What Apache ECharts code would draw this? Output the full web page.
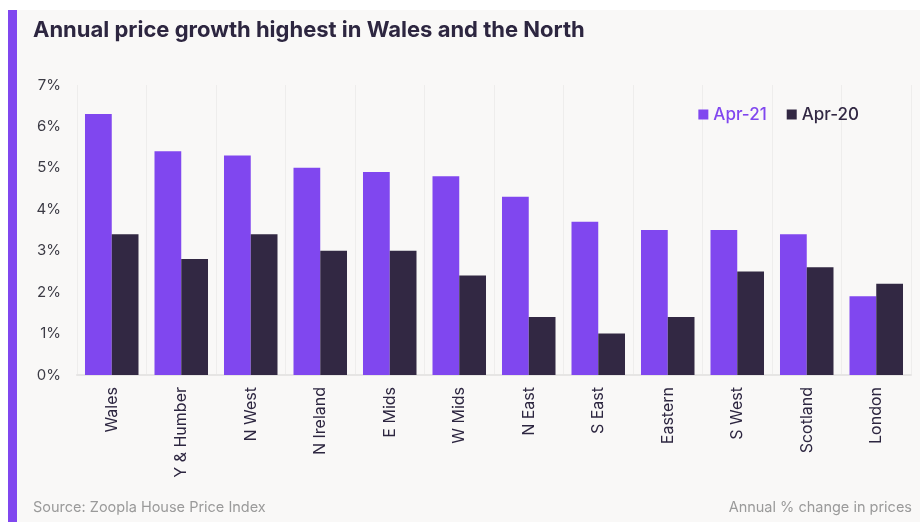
<!DOCTYPE html>
<html>
<head>
<meta charset="utf-8">
<script src="https://cdn.jsdelivr.net/npm/echarts@6/dist/echarts.min.js"></script>
<style>html,body{margin:0;padding:0;background:#fff;}#c{width:920px;height:522px;}</style>
</head>
<body>
<div id="c"></div>
<script>
const categories = ['Wales','Y & Humber','N West','N Ireland','E Mids','W Mids','N East','S East','Eastern','S West','Scotland','London'];
const apr21 = [6.3,5.4,5.3,5.0,4.9,4.8,4.3,3.7,3.5,3.5,3.4,1.9];
const apr20 = [3.4,2.8,3.4,3.0,3.0,2.4,1.4,1.0,1.4,2.5,2.6,2.2];
const yTicks = [0,1,2,3,4,5,6,7];
const seriesNames = ['Apr-21','Apr-20'];
const colors = ['#8047EF','#322843'];

const chart = echarts.init(document.getElementById('c'), null, {renderer:'canvas'});
chart.setOption({
  backgroundColor:'#fff',
  animation:false,
  textStyle:{fontFamily:'Inter'},
  graphic:[
    {type:'rect',shape:{x:17,y:10,width:903,height:512},style:{fill:'#f9f8f7'},z:-10},
    {type:'rect',shape:{x:8,y:10,width:9,height:512},style:{fill:'#8047EF'},z:-9},
    {type:'text',left:33,top:19,style:{text:'Annual price growth highest in Wales and the North',font:'700 22px Inter',fill:'#2d2640'}},
    {type:'text',left:33,top:500,style:{text:'Source: Zoopla House Price Index',font:'14.5px Inter',fill:'#9a9a9a'}},
    {type:'text',right:8,top:500,style:{text:'Annual % change in prices',font:'14.5px Inter',fill:'#9a9a9a',textAlign:'right'}}
  ],
  legend:{
    right:56,top:101,itemWidth:10,itemHeight:10,itemGap:20,icon:'rect',
    data:[
      {name:seriesNames[0],textStyle:{color:colors[0]}},
      {name:seriesNames[1],textStyle:{color:colors[1]}}
    ],
    textStyle:{fontSize:17,fontWeight:500,fontFamily:'Inter'}
  },
  grid:{left:77,right:9,top:85,bottom:147,containLabel:false},
  xAxis:{
    type:'category',data:categories,
    axisLine:{show:true,lineStyle:{color:'#e6e5e4',width:2}},
    axisTick:{show:false},
    splitLine:{show:true,lineStyle:{color:'#eeedec',width:1}},
    axisLabel:{rotate:90,fontSize:16,color:'#2d2640',margin:12,interval:0}
  },
  yAxis:{
    type:'value',min:0,max:7,interval:1,
    axisLine:{show:false},axisTick:{show:false},
    splitLine:{show:false},
    axisLabel:{fontSize:15,color:'#3c3b45',margin:16,formatter:v=>v+'%'}
  },
  series:[
    {name:seriesNames[0],type:'bar',data:apr21,itemStyle:{color:colors[0]},barGap:'0%',barCategoryGap:'23%'},
    {name:seriesNames[1],type:'bar',data:apr20,itemStyle:{color:colors[1]},barGap:'0%',barCategoryGap:'23%'}
  ]
});
</script>
</body>
</html>
